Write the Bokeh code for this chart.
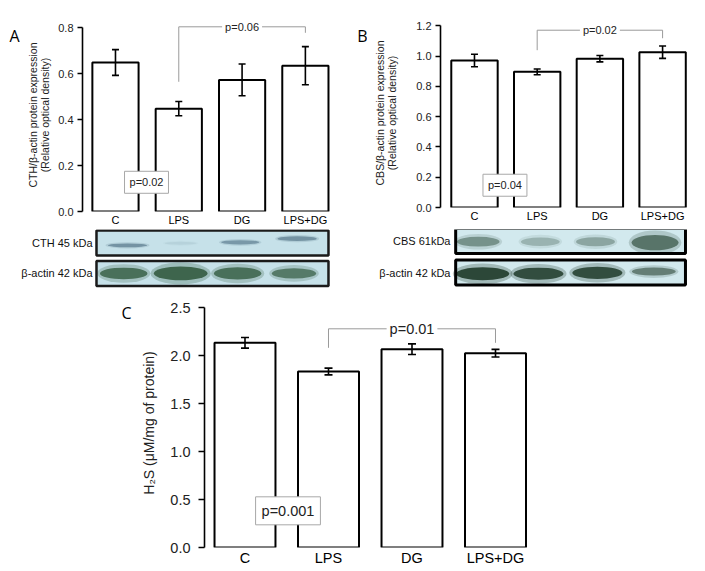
from bokeh.plotting import figure
from bokeh.models import (Range1d, FixedTicker, Whisker, ColumnDataSource, Label,
                          TeeHead, NumeralTickFormatter)
from bokeh.layouts import column, row
from bokeh.embed import file_html
from bokeh.resources import INLINE
from bokeh.core.properties import value

# ---------------- data ----------------
groups = ["C", "LPS", "DG", "LPS+DG"]
xpos = [1, 2, 3, 4]

cth_mean = [0.648, 0.447, 0.572, 0.634]
cth_err = [0.056, 0.031, 0.069, 0.083]
cth_p_vs_ctrl = "p=0.02"
cth_p_vs_dg = "p=0.06"

cbs_mean = [0.971, 0.896, 0.983, 1.026]
cbs_err = [0.041, 0.019, 0.021, 0.041]
cbs_p_vs_ctrl = "p=0.04"
cbs_p_vs_dg = "p=0.02"

h2s_mean = [2.132, 1.833, 2.066, 2.024]
h2s_err = [0.055, 0.035, 0.055, 0.04]
h2s_p_vs_ctrl = "p=0.001"
h2s_p_vs_dg = "p=0.01"

ticks_A = [0.0, 0.2, 0.4, 0.6, 0.8]
ticks_B = [0.0, 0.2, 0.4, 0.6, 0.8, 1.0, 1.2]
ticks_C = [0.0, 0.5, 1.0, 1.5, 2.0, 2.5]

# western blot band intensities (relative darkness)
cth_band = [0.6, 0.1, 0.55, 0.6]
actinA_band = [0.85, 0.95, 0.85, 0.75]
cbs_band = [0.6, 0.35, 0.45, 0.85]
actinB_band = [1.0, 0.95, 0.95, 0.6]

# ---------------- styling / layout ----------------
FONT = "Liberation Sans"
LETTER_FONT = "Open Sans"


def plain_fig(width, height, xr, yr):
    p = figure(width=width, height=height, x_range=xr, y_range=yr,
               output_backend="svg", toolbar_location=None,
               min_border_left=0, min_border_right=0, min_border_top=0, min_border_bottom=0,
               x_axis_location=None, y_axis_location=None)
    p.outline_line_color = None
    p.grid.visible = False
    return p


def letter_fig(width, height, text, cx, cy):
    p = plain_fig(width, height, Range1d(0, width), Range1d(height, 0))
    p.text(x=[cx], y=[cy], text=[text], text_align="center", text_baseline="middle",
           text_font=value(LETTER_FONT), text_font_size="16px", text_color="black")
    return p


def bar_panel(frame_w, frame_h, mb_left, mb_right, mb_top, mb_bottom, x0, ppu, px_per_unit,
              means, errs, ticks, tick_fs, xlab_fs, ylabel, ylabel_fs, ylabel_standoff,
              ylabel_lh, tick_out, tick_standoff, bar_w, head, bracket, pbox):
    x1 = x0 + frame_w / ppu
    ytop = frame_h / px_per_unit
    p = figure(frame_width=frame_w, frame_height=frame_h,
               x_range=Range1d(x0, x1), y_range=Range1d(0, ytop),
               output_backend="svg", toolbar_location=None,
               min_border_left=mb_left, min_border_right=mb_right,
               min_border_top=mb_top, min_border_bottom=mb_bottom)
    p.outline_line_color = None
    p.grid.visible = False

    src = ColumnDataSource(dict(x=xpos, top=means,
                                upper=[m + e for m, e in zip(means, errs)],
                                lower=[m - e for m, e in zip(means, errs)]))
    p.vbar(x="x", top="top", bottom=0, width=bar_w, source=src,
           fill_color="white", line_color="black", line_width=2)
    w = Whisker(base="x", upper="upper", lower="lower", source=src,
                line_color="black", line_width=1.6, level="overlay",
                upper_head=TeeHead(size=head, line_width=1.6, line_color="black"),
                lower_head=TeeHead(size=head, line_width=1.6, line_color="black"))
    p.add_layout(w)

    xa = p.xaxis[0]
    xa.ticker = FixedTicker(ticks=xpos)
    xa.major_label_overrides = {x: g for x, g in zip(xpos, groups)}
    xa.axis_line_color = None
    xa.major_tick_line_color = None
    xa.major_tick_out = 0
    xa.major_tick_in = 0
    xa.minor_tick_line_color = None
    xa.major_label_standoff = 2
    xa.major_label_text_font = FONT
    xa.major_label_text_font_size = xlab_fs
    xa.major_label_text_color = "black"
    xa.axis_label = None

    ya = p.yaxis[0]
    ya.ticker = FixedTicker(ticks=ticks)
    ya.formatter = NumeralTickFormatter(format="0.0")
    ya.bounds = (ticks[0], ticks[-1])
    ya.axis_line_width = 1.6
    ya.axis_line_color = "black"
    ya.major_tick_out = tick_out
    ya.major_tick_in = 0
    ya.major_tick_line_width = 1.3
    ya.minor_tick_line_color = None
    ya.major_label_standoff = tick_standoff
    ya.major_label_text_font = FONT
    ya.major_label_text_font_size = tick_fs
    ya.major_label_text_color = "#222222"
    ya.axis_label = ylabel
    ya.axis_label_text_font = FONT
    ya.axis_label_text_font_size = ylabel_fs
    ya.axis_label_text_font_style = "normal"
    ya.axis_label_text_color = "#222222"
    ya.axis_label_text_line_height = ylabel_lh
    ya.axis_label_standoff = ylabel_standoff

    # bracket between LPS and LPS+DG
    (ystart, ylevel, yend, ptext, pfs) = bracket
    p.line(x=[xpos[1], xpos[1], xpos[3], xpos[3]], y=[ystart, ylevel, ylevel, yend],
           line_color="#9a9a9a", line_width=1)
    p.add_layout(Label(x=xpos[2], y=ylevel, text=ptext, text_align="center",
                       text_baseline="middle", text_font=FONT, text_font_size=pfs,
                       text_color="#222222", background_fill_color="white",
                       padding=3))
    (bx, by, btext, bfs, bpad) = pbox
    p.add_layout(Label(x=bx, y=by, text=btext, text_align="center", text_baseline="middle",
                       text_font=FONT, text_font_size=bfs, text_color="#222222",
                       background_fill_color="white", border_line_color="#a8a8a8",
                       border_line_width=1, padding=bpad))
    return p, x1


# ---- Panel A ----
ppuA, x0A = 63.3, 0.479
figA, x1A = bar_panel(258, 193, 62, 5, 18, 18, x0A, ppuA, 230.0,
                      cth_mean, cth_err, ticks_A, "11px", "11px",
                      "CTH/\u03b2-actin protein expression\n(Relative optical density)",
                      "10.5px", 4, 1.0, 5, 4, 0.73, 7,
                      (0.564, 0.803, 0.777, cth_p_vs_dg, "11px"),
                      (1.49, 0.127, cth_p_vs_ctrl, "11px", 5))
letterA = letter_fig(20, 229, "A", 14, 35.5)

# ---- Panel B ----
ppuB, x0B = 62.7, 0.458
figB, x1B = bar_panel(252, 189, 73, 12, 18, 22, x0B, ppuB, 151.4,
                      cbs_mean, cbs_err, ticks_B, "11px", "11px",
                      "CBS/\u03b2-actin protein expression\n(Relative optical density)",
                      "10.5px", 15, 1.0, 5, 4, 0.74, 7,
                      (1.039, 1.171, 1.118, cbs_p_vs_dg, "11px"),
                      (1.486, 0.147, cbs_p_vs_ctrl, "11px", 5))
letterB = letter_fig(22, 229, "B", 17, 35.5)

# ---- Panel C ----
ppuC, x0C = 83.5, 0.515
figC, x1C = bar_panel(342, 249, 65, 8, 8, 23, x0C, ppuC, 96.0,
                      h2s_mean, h2s_err, ticks_C, "14.5px", "14.5px",
                      "H\u2082S (\u03bcM/mg of protein)",
                      "14px", 10, 1.2, 6, 8, 0.73, 8,
                      (2.08, 2.278, 2.132, h2s_p_vs_dg, "14.5px"),
                      (1.515, 0.382, h2s_p_vs_ctrl, "14.5px", 6))
letterC = letter_fig(138, 280, "C", 126, 22.5)


# ---------------- western blots ----------------
def blot_panel(width, x0, x1, ppu, left_px, right_px, rows, bg, border_w, border_col,
               label_x, labels, bands, band_x, band_y, band_w, band_h, band_col):
    p = plain_fig(width, 61, Range1d(x0 - left_px / ppu, x1 + right_px / ppu),
                  Range1d(2.0, 0.0))
    for r, lab, strengths, bx, by, bw, bh, col in zip(rows, labels, bands, band_x, band_y,
                                                      band_w, band_h, band_col):
        p.quad(left=[0.70], right=[4.365], top=[r - 0.41], bottom=[r + 0.41],
               fill_color=bg, line_color=None)
        p.ellipse(x=bx, y=by, width=[w * 1.12 for w in bw], height=[h * 1.6 for h in bh],
                  fill_color=col, fill_alpha=[0.25 * s for s in strengths], line_color=None)
        p.ellipse(x=bx, y=by, width=bw, height=bh,
                  fill_color=col, fill_alpha=[0.8 * s for s in strengths], line_color=None)
        p.quad(left=[0.70], right=[4.365], top=[r - 0.41], bottom=[r + 0.41],
               fill_color=None, line_color=border_col, line_width=border_w)
        p.text(x=[label_x], y=[r], text=[lab], text_align="right", text_baseline="middle",
               text_font=value(FONT), text_font_size="11px", text_color="#111111")
    return p


blotA = blot_panel(345, x0A, x1A, ppuA, 82, 5, [0.44, 1.44], "#c6e1e9", 2.5, "#1a1a1a", 0.637,
                   ["CTH 45 kDa", "\u03b2-actin 42 kDa"],
                   [cth_band, actinA_band],
                   [[1.19, 2.03, 2.97, 3.87], [1.13, 2.03, 2.93, 3.82]],
                   [[0.52, 0.45, 0.42, 0.30], [1.44, 1.44, 1.44, 1.44]],
                   [[0.62, 0.5, 0.6, 0.62], [0.75, 0.85, 0.75, 0.7]],
                   [[0.13, 0.1, 0.14, 0.15], [0.38, 0.45, 0.4, 0.34]],
                   ["#33556a", "#1f4a2a"])

blotB = blot_panel(359, x0B, x1B, ppuB, 95, 12, [0.38, 1.41], "#d2e9ee", 3, "#000000", 0.617,
                   ["CBS 61kDa", "\u03b2-actin 42 kDa"],
                   [cbs_band, actinB_band],
                   [[1.06, 2.05, 2.93, 3.88], [1.13, 2.02, 2.96, 3.86]],
                   [[0.40, 0.40, 0.40, 0.43], [1.45, 1.45, 1.42, 1.38]],
                   [[0.68, 0.62, 0.62, 0.75], [0.85, 0.8, 0.8, 0.7]],
                   [[0.32, 0.28, 0.3, 0.5], [0.42, 0.4, 0.4, 0.26]],
                   ["#2f4d3d", "#0f2a18"])

topA = column(row(column(letterA), figA), blotA)
topB = column(row(column(letterB), figB), blotB)
bottom = row(column(letterC), figC)
layout = column(row(topA, topB), bottom)

open("out.html", "w").write(file_html(layout, INLINE))
